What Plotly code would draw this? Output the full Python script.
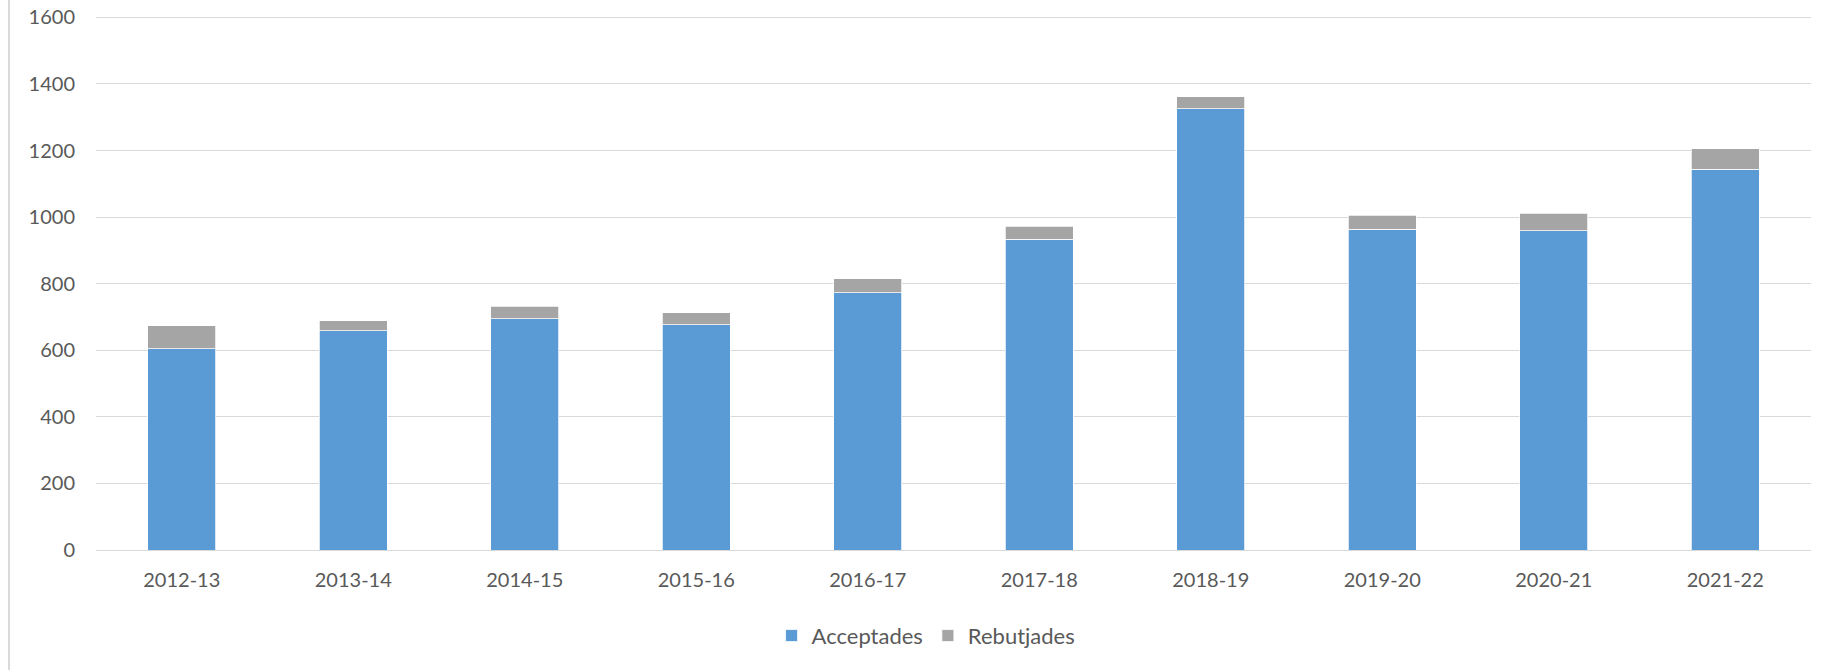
import plotly.graph_objects as go

years = ["2012-13", "2013-14", "2014-15", "2015-16", "2016-17",
         "2017-18", "2018-19", "2019-20", "2020-21", "2021-22"]
acceptades = [605, 658, 695, 677, 772, 934, 1326, 964, 959, 1144]
rebutjades = [69, 30, 37, 35, 43, 38, 36, 42, 52, 62]
y_ticks = [0, 200, 400, 600, 800, 1000, 1200, 1400, 1600]

FONT = "Lato"
TXT = "#595959"

fig = go.Figure()
fig.add_trace(go.Bar(x=years, y=acceptades, name="Acceptades",
                     marker=dict(color="#5B9BD5", line=dict(color="white", width=0.75))))
fig.add_trace(go.Bar(x=years, y=rebutjades, name="Rebutjades",
                     marker=dict(color="#A5A5A5", line=dict(color="white", width=0.75))))

fig.update_layout(
    barmode="stack",
    bargap=0.605,
    width=1829, height=670,
    margin=dict(l=96, r=18, t=14, b=120, autoexpand=False),
    paper_bgcolor="white", plot_bgcolor="white",
    font=dict(family=FONT, size=20, color=TXT),
    showlegend=True,
    legend=dict(orientation="h", x=0.484, xanchor="center", y=-0.16, yanchor="middle",
                font=dict(family=FONT, size=22, color=TXT), itemwidth=30,
                traceorder="normal"),
    xaxis=dict(showgrid=False, showline=False, ticks="", ticklabelstandoff=16,
               automargin=False,
               tickfont=dict(family=FONT, size=20, color=TXT)),
    yaxis=dict(range=[0, 1610], tickvals=y_ticks, showgrid=True, gridcolor="#d9d9d9",
               gridwidth=1, zeroline=True, zerolinecolor="#d9d9d9", zerolinewidth=1,
               showline=False, ticks="", ticklabelstandoff=20, automargin=False,
               ticklabeloverflow="allow",
               tickfont=dict(family=FONT, size=20, color=TXT)),
    shapes=[dict(type="line", xref="paper", yref="paper",
                 x0=-0.0507, x1=-0.0507, y0=-0.3, y1=1.04,
                 line=dict(color="#d9d9d9", width=2))],
)

fig.write_html("out.html", config={"displayModeBar": False},
               post_script="document.body.style.margin='0';document.body.style.overflow='hidden';")
